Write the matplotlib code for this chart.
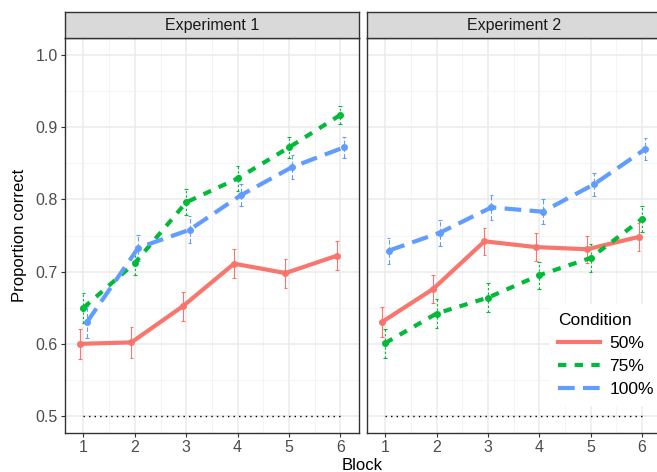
import matplotlib
matplotlib.use("Agg")
import matplotlib.pyplot as plt
import numpy as np

plt.rcParams['font.family'] = ['Liberation Sans', 'DejaVu Sans']

blocks = [1, 2, 3, 4, 5, 6]
conditions = ["50%", "75%", "100%"]
colors = ["#F8766D", "#00BA38", "#619CFF"]
experiments = ["Experiment 1", "Experiment 2"]

# mean proportion correct per block
exp1_means = {
    "50%": [0.600, 0.602, 0.652, 0.711, 0.698, 0.722],
    "75%": [0.650, 0.712, 0.796, 0.829, 0.872, 0.917],
    "100%": [0.630, 0.733, 0.758, 0.806, 0.845, 0.872],
}
exp2_means = {
    "50%": [0.630, 0.676, 0.742, 0.734, 0.731, 0.748],
    "75%": [0.601, 0.642, 0.664, 0.695, 0.719, 0.773],
    "100%": [0.729, 0.754, 0.789, 0.783, 0.821, 0.870],
}
# error bar half-widths
exp1_err = {
    "50%": [0.021, 0.021, 0.020, 0.020, 0.020, 0.020],
    "75%": [0.021, 0.017, 0.018, 0.017, 0.015, 0.012],
    "100%": [0.022, 0.018, 0.019, 0.015, 0.017, 0.015],
}
exp2_err = {
    "50%": [0.021, 0.020, 0.019, 0.019, 0.019, 0.019],
    "75%": [0.020, 0.020, 0.020, 0.019, 0.019, 0.018],
    "100%": [0.018, 0.018, 0.017, 0.017, 0.016, 0.015],
}

linestyles = {"50%": "-", "75%": (0, (2, 2)), "100%": (0, (4, 2))}
offsets = {"50%": -0.067, "75%": 0.0, "100%": 0.067}

W, H = 657, 472
fig = plt.figure(figsize=(W / 100, H / 100), dpi=100)

panels = [(65, exp1_means, exp1_err), (366.7, exp2_means, exp2_err)]
pw = 294.3
top, bottom = 37.7, 433
strip_top = 11.7

axes = []
for i, (left, means, errs) in enumerate(panels):
    ax = fig.add_axes([left / W, 1 - bottom / H, pw / W, (bottom - top) / H])
    axes.append(ax)
    ax.set_xlim(0.64, 6.37)
    ax.set_ylim(0.4765, 1.024)
    ax.set_xticks(blocks)
    ax.set_xticks(np.arange(1.5, 6, 1), minor=True)
    ax.set_yticks([0.5, 0.6, 0.7, 0.8, 0.9, 1.0])
    ax.set_yticks(np.arange(0.55, 1.0, 0.1), minor=True)
    ax.grid(which="major", color="#EBEBEB", lw=1.1, zorder=0)
    ax.grid(which="minor", color="#F2F2F2", lw=0.6, zorder=0)
    ax.set_axisbelow(True)
    for s in ax.spines.values():
        s.set_color("#333333")
        s.set_linewidth(1.0)
    ax.tick_params(which="major", length=3, color="#333333", labelsize=11.5,
                   labelcolor="#4D4D4D", pad=2)
    ax.tick_params(which="minor", length=0)
    if i == 1:
        ax.set_yticklabels([])
        ax.tick_params(axis="y", length=0)
    else:
        ax.set_yticklabels(["0.5", "0.6", "0.7", "0.8", "0.9", "1.0"])

    ax.hlines(0.5, 1, 6, colors="black", linestyles=(0, (1, 3)), lw=1.0, zorder=2)

    for cond, col in zip(conditions, colors):
        x = np.array(blocks) + offsets[cond]
        y = np.array(means[cond])
        e = np.array(errs[cond])
        ax.vlines(x, y - e, y + e, colors=col, lw=0.8,
                  linestyles=linestyles[cond], zorder=3)
        ax.hlines(y - e, x - 0.035, x + 0.035, colors=col, lw=0.8, zorder=3)
        ax.hlines(y + e, x - 0.035, x + 0.035, colors=col, lw=0.8, zorder=3)
        ax.plot(x, y, color=col, lw=3.0, ls=linestyles[cond], zorder=4,
                label=cond)
        ax.plot(x, y, "o", color=col, ms=4, zorder=5)

    sax = fig.add_axes([left / W, 1 - top / H, pw / W, (top - strip_top) / H])
    sax.set_facecolor("#D9D9D9")
    sax.set_xticks([])
    sax.set_yticks([])
    for s in sax.spines.values():
        s.set_color("#333333")
        s.set_linewidth(1.0)
    sax.text(0.5, 0.47, experiments[i], ha="center", va="center",
             fontsize=11.5, color="#1A1A1A", transform=sax.transAxes)

fig.text(20 / W, 1 - 235 / H, "Proportion correct", rotation=90,
         ha="center", va="center", fontsize=12)
fig.text(362 / W, 1 - 465 / H, "Block", ha="center", va="center", fontsize=12)

leg = axes[1].legend(loc="lower right", bbox_to_anchor=(1.035, 0.048),
                     title="Condition", fontsize=12.5, title_fontsize=12.5,
                     frameon=True, fancybox=False, handlelength=2.4,
                     borderpad=0.5, labelspacing=0.45, handletextpad=0.55)
leg.get_frame().set_edgecolor("white")
leg.get_frame().set_facecolor("white")
leg.get_frame().set_alpha(1)
leg._legend_box.align = "left"

fig.savefig("out.png", dpi=100)
